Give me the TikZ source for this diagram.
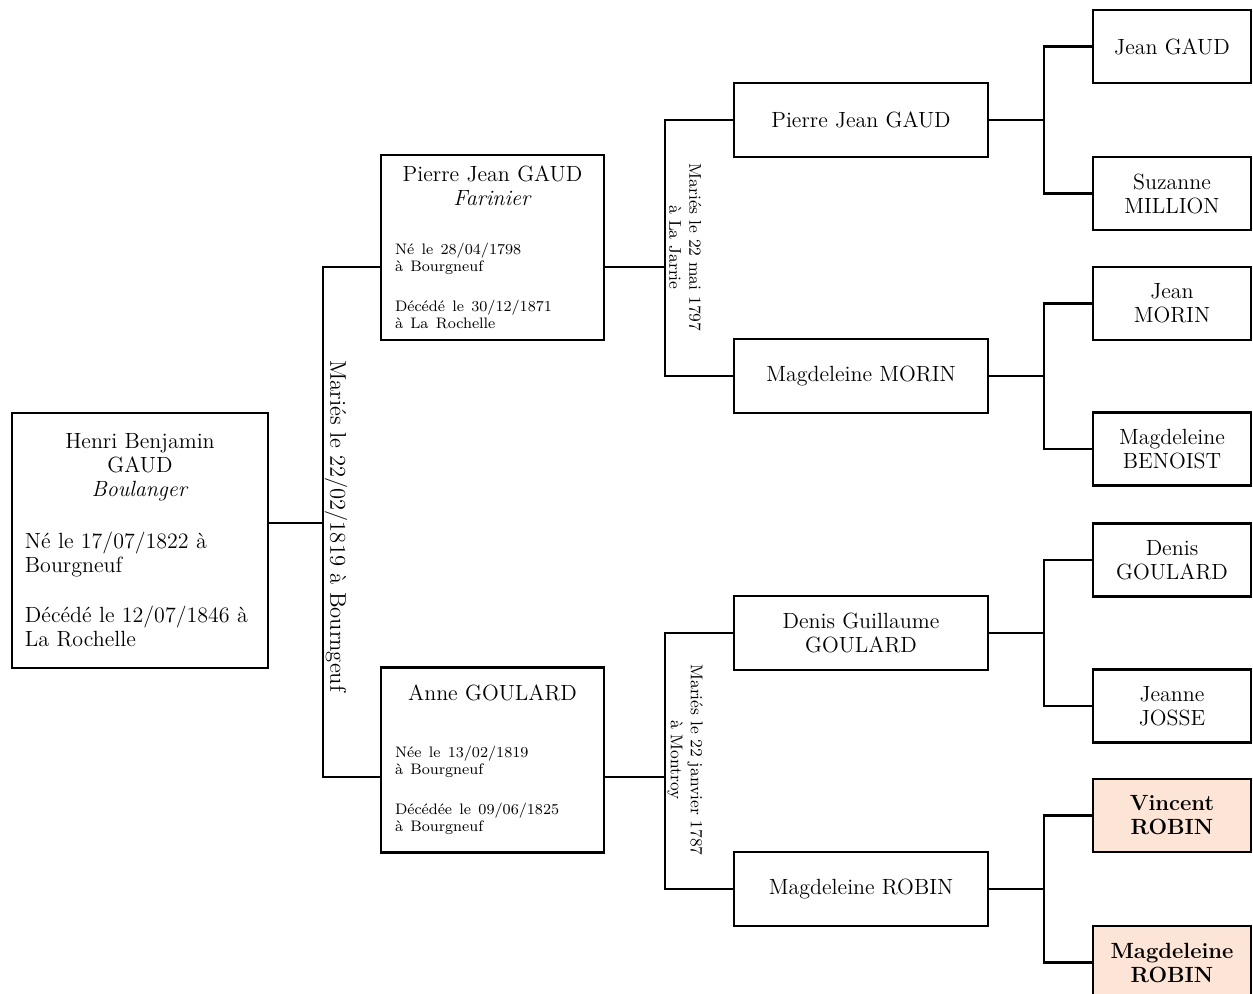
\documentclass[tikz,border=0pt]{standalone}
\usepackage{xcolor}
\usepackage{tikz}
\usetikzlibrary{
	positioning,
	calc,
	}

\definecolor{peach}{RGB}{252,228,214}
\newcommand{\smallinfo}{\fontsize{7.6}{8.5}\selectfont}

\tikzset{
	box/.style={draw, line width=1.1pt, rectangle, align=center, inner sep=2pt,
		font=\fontsize{11}{12}\selectfont},
	root/.style={box, minimum height=127.5pt, text width=115pt, inner xsep=6.5pt, align=left},
	elder/.style={box, minimum height=92.5pt, text width=97.5pt, inner xsep=7pt, align=left},
	gthree/.style={box, minimum width=127pt, minimum height=37pt},
	gfour/.style={box, minimum width=79pt, minimum height=36.5pt},
	known/.style={gfour, fill=peach, font=\fontsize{11}{12}\selectfont\bfseries},
	wed/.style={rotate=-90, align=center, inner sep=0pt},
	link/.style={line width=1.1pt},
}

\begin{document}
\begin{tikzpicture}[x=0.5pt, y=-0.5pt]
		\useasboundingbox (0,0) rectangle (1253,994);
		% generation 1
		\node[root] (henri) at (140,540.5) {%
			{\centering Henri Benjamin\\ GAUD\\ \textit{Boulanger}\par}\vspace{14pt}
			Né le 17/07/1822 à\\ Bourgneuf\\[13pt] Décédé le 12/07/1846 à\\ La Rochelle};
		% generation 2
		\node[elder] (pierre) at (492.5,247.5) {%
			{\centering Pierre Jean GAUD\\ \textit{Farinier}\par}\vspace{16pt}
			{\smallinfo Né le 28/04/1798\\ à Bourgneuf\\[11.5pt] Décédé le 30/12/1871\\ à La Rochelle\par}};
		\node[elder] (anne) at (492.5,760) {%
			{\centering Anne GOULARD\par}\vspace{20pt}
			{\smallinfo Née le 13/02/1819\\ à Bourgneuf\\[11.5pt] Décédée le 09/06/1825\\ à Bourgneuf\par}};
		% generation 3
		\node[gthree] (pj) at (861,120) {Pierre Jean GAUD};
		\node[gthree] (mm) at (861,376) {Magdeleine MORIN};
		\node[gthree] (dg) at (861,633) {Denis Guillaume\\ GOULARD};
		\node[gthree] (mr) at (861,889) {Magdeleine ROBIN};
		% generation 4
		\node[gfour] (jg) at (1172,46.5) {Jean GAUD};
		\node[gfour] (sm) at (1172,193.5) {Suzanne\\ MILLION};
		\node[gfour] (jm) at (1172,303.5) {Jean\\ MORIN};
		\node[gfour] (mb) at (1172,449) {Magdeleine\\ BENOIST};
		\node[gfour] (dgo) at (1172,560) {Denis\\ GOULARD};
		\node[gfour] (jj) at (1172,706) {Jeanne\\ JOSSE};
		\node[known] (vr) at (1172,815.5) {Vincent\\ ROBIN};
		\node[known] (mro) at (1172,962.5) {Magdeleine\\ ROBIN};
		% junctions
		\coordinate (m0) at (323,523);
		\coordinate (m1) at (323,267);
		\coordinate (m2) at (323,777);
		\coordinate (p0) at (665,267);
		\coordinate (a0) at (665,777);
		\coordinate (q1) at (1044,120);
		\coordinate (q2) at (1044,376);
		\coordinate (q3) at (1044,633);
		\coordinate (q4) at (1044,889);
		\draw[link] (henri.east |- m0) -- (m0);
		\draw[link] (pierre.west |- m1) -- (m1) -- (m2) -- (anne.west |- m2);
		\draw[link] (pierre.east |- p0) -- (p0);
		\draw[link] (anne.east |- a0) -- (a0);
		\draw[link] (pj.west) -| (p0) |- (mm.west);
		\draw[link] (dg.west) -| (a0) |- (mr.west);
		\draw[link] (pj.east) -- (q1);
		\draw[link] (mm.east) -- (q2);
		\draw[link] (dg.east) -- (q3);
		\draw[link] (mr.east) -- (q4);
		\draw[link] (jg.west) -| (q1) |- (sm.west);
		\draw[link] (jm.west) -| (q2) |- (mb.west);
		\draw[link] (dgo.west) -| (q3) |- (jj.west);
		\draw[link] (vr.west) -| (q4) |- (mro.west);
		% marriages
		\node[wed, font=\fontsize{11.3}{12}\selectfont] (w0) at (336,526) {Mariés le 22/02/1819 à Bourngeuf};
		\node[wed, font=\fontsize{8.5}{10}\selectfont] (w1) at (685,247.5) {Mariés le 22 mai 1797\\ à La Jarrie};
		\node[wed, font=\fontsize{8.5}{10}\selectfont] (w2) at (685,760) {Mariés le 22 janvier 1787\\ à Montroy};
	\end{tikzpicture}
\end{document}
